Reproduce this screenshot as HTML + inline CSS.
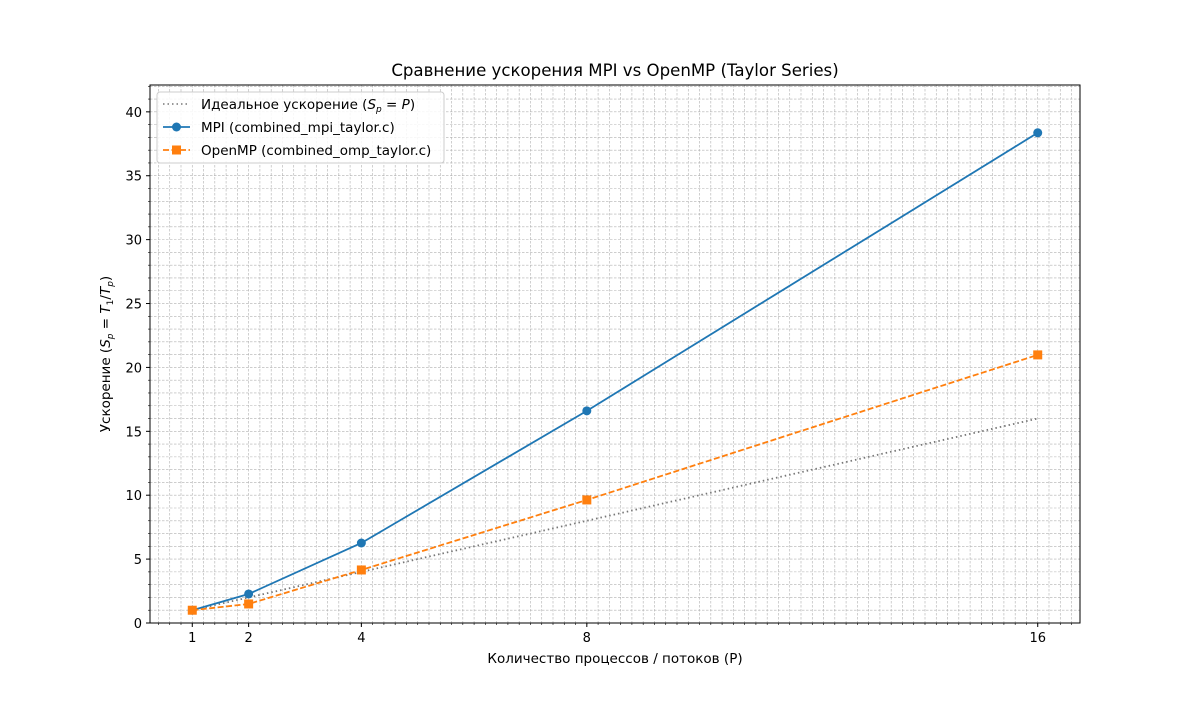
<!DOCTYPE html>
<html><head><meta charset="utf-8"><style>
body{margin:0;background:#fff;font-family:"Liberation Sans","DejaVu Sans",sans-serif;}
svg text{font-family:"DejaVu Sans","Liberation Sans",sans-serif;}
</style></head><body>
<svg id="c" width="1200" height="700" xmlns="http://www.w3.org/2000/svg"></svg>
<script>
const procs=[1,2,4,8,16];
const idealVals=[1,2,4,8,16];
const mpiVals=[1,2.27,6.26,16.6,38.36];
const ompVals=[1,1.49,4.15,9.63,20.98];
const xTicks=[1,2,4,8,16];
const yTicks=[0,5,10,15,20,25,30,35,40];
const L=150,R=1080,T=85,B=623,xmin=0.25,xmax=16.75,ymin=0,ymax=42.1;
const X=v=>L+(v-xmin)/(xmax-xmin)*(R-L);
const Y=v=>B-(v-ymin)/(ymax-ymin)*(B-T);
const svg=document.getElementById('c');
const NS='http://www.w3.org/2000/svg';
function mk(t,a,p){const e=document.createElementNS(NS,t);for(const k in a)e.setAttribute(k,a[k]);(p||svg).appendChild(e);return e;}
const grid=mk('g',{});


for(let i=2;i<=84;i++){const v=i*0.2;if(v>xmax)break;mk('line',{x1:X(v),x2:X(v),y1:T,y2:B,stroke:'#b0b0b0','stroke-width':0.6,'stroke-dasharray':'2.5,1.5'},grid);
 mk('line',{x1:X(v),x2:X(v),y1:B,y2:B+2,stroke:'#000','stroke-width':0.6},grid);}
for(let v=1;v<=42;v++){mk('line',{x1:L,x2:R,y1:Y(v),y2:Y(v),stroke:'#b0b0b0','stroke-width':0.6,'stroke-dasharray':'2.5,1.5'},grid);
 mk('line',{x1:L-2,x2:L,y1:Y(v),y2:Y(v),stroke:'#000','stroke-width':0.6},grid);}
xTicks.forEach(v=>{mk('line',{x1:X(v),x2:X(v),y1:B,y2:B+4,stroke:'#000'});const t=mk('text',{x:X(v),y:B+19,'text-anchor':'middle','font-size':13});t.textContent=v;
 });
yTicks.forEach(v=>{mk('line',{x1:L-4,x2:L,y1:Y(v),y2:Y(v),stroke:'#000'});const t=mk('text',{x:L-8,y:Y(v)+5,'text-anchor':'end','font-size':13});t.textContent=v;
 });
function line(vals,col,dash,w,name){const p=mk('polyline',{points:procs.map((x,i)=>X(x)+','+Y(vals[i])).join(' '),fill:'none',stroke:col,'stroke-width':w,'stroke-dasharray':dash});
 }
line(idealVals,'#777','1.5,3',1.8,'ideal-line');
line(mpiVals,'#1f77b4','',1.8,'mpi-line');
line(ompVals,'#ff7f0e','6,2.5',1.8,'omp-line');
procs.forEach((x,i)=>{const c=mk('circle',{cx:X(x),cy:Y(mpiVals[i]),r:4.5,fill:'#1f77b4'});
 const s=mk('rect',{x:X(x)-4.5,y:Y(ompVals[i])-4.5,width:9,height:9,fill:'#ff7f0e'});});
mk('rect',{x:L,y:T,width:R-L,height:B-T,fill:'none',stroke:'#000','stroke-width':1});
// legend
const lg=mk('g',{});


mk('rect',{x:157,y:92,width:287,height:71,rx:3,fill:'#fff','fill-opacity':0.85,stroke:'#ccc'},lg);
mk('line',{x1:163,x2:190,y1:104,y2:104,stroke:'#777','stroke-width':1.6,'stroke-dasharray':'1.5,3'},lg);
mk('line',{x1:163,x2:190,y1:127,y2:127,stroke:'#1f77b4','stroke-width':1.8},lg);
mk('circle',{cx:176.5,cy:127,r:4.5,fill:'#1f77b4'},lg);
mk('line',{x1:163,x2:190,y1:150,y2:150,stroke:'#ff7f0e','stroke-width':1.8,'stroke-dasharray':'6,2.5'},lg);
mk('rect',{x:172,y:145.5,width:9,height:9,fill:'#ff7f0e'},lg);
const l1=mk('text',{x:201,y:109,'font-size':13.5},lg);l1.innerHTML='Идеальное ускорение (<tspan font-style="italic">S</tspan><tspan font-style="italic" font-size="9" dy="3">p</tspan><tspan dy="-3"> = </tspan><tspan font-style="italic">P</tspan>)';
const l2=mk('text',{x:201,y:132,'font-size':13.5},lg);l2.textContent='MPI (combined_mpi_taylor.c)';
const l3=mk('text',{x:201,y:155,'font-size':13.5},lg);l3.textContent='OpenMP (combined_omp_taylor.c)';
const tt=mk('text',{x:615,y:76,'text-anchor':'middle','font-size':16.6});tt.textContent='Сравнение ускорения MPI vs OpenMP (Taylor Series)';

const xt=mk('text',{x:615,y:663,'text-anchor':'middle','font-size':13.5});xt.textContent='Количество процессов / потоков (P)';

const yt=mk('text',{x:0,y:0,'text-anchor':'middle','font-size':13.5,transform:'translate(110,354) rotate(-90)'});
yt.innerHTML='Ускорение (<tspan font-style="italic">S</tspan><tspan font-style="italic" font-size="9" dy="3">p</tspan><tspan dy="-3"> = </tspan><tspan font-style="italic">T</tspan><tspan font-size="9" dy="3">1</tspan><tspan dy="-3">/</tspan><tspan font-style="italic">T</tspan><tspan font-style="italic" font-size="9" dy="3">p</tspan><tspan dy="-3">)</tspan>';

</script>
</body></html>
